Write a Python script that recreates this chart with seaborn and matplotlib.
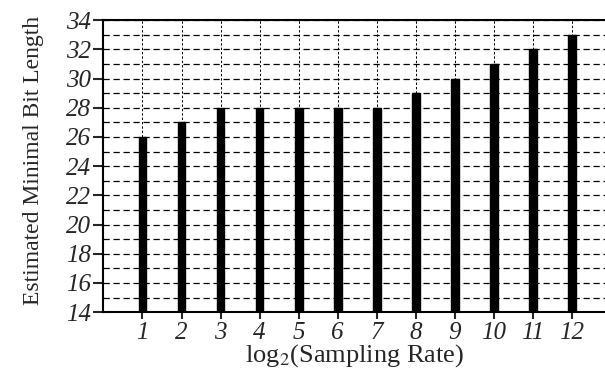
import pandas as pd
import seaborn as sns
import matplotlib.pyplot as plt
from matplotlib.ticker import MultipleLocator

log_rate = [1, 2, 3, 4, 5, 6, 7, 8, 9, 10, 11, 12]
bit_length = [26, 27, 28, 28, 28, 28, 28, 29, 30, 31, 32, 33]

df = pd.DataFrame({"rate": log_rate, "bits": bit_length})

sns.set_style("white")
plt.rcParams["font.family"] = ["Liberation Serif", "DejaVu Serif"]
plt.rcParams["mathtext.fontset"] = "stix"

fig = plt.figure(figsize=(6.05, 3.73), dpi=100)
ax = fig.add_axes([0.171, 0.163, 0.829, 0.783])

sns.barplot(ax=ax, data=df, x="rate", y="bits", native_scale=True,
            color="black", width=0.2, edgecolor="black", saturation=1)

ax.set_xlim(0, 12.85)
ax.set_ylim(14, 34)
ax.set_xticks(log_rate)
ax.set_xticklabels([str(v) for v in log_rate], fontstyle="italic", fontsize=18)
ax.yaxis.set_major_locator(MultipleLocator(2))
ax.yaxis.set_minor_locator(MultipleLocator(1))
for t in ax.get_yticklabels():
    t.set_fontstyle("italic")
    t.set_fontsize(18)

ax.grid(True, which="both", axis="y", linestyle=(0, (5, 3)), color="black", linewidth=0.9)
ax.grid(True, which="major", axis="x", linestyle=(0, (2.5, 2)), color="black", linewidth=0.7)
ax.set_axisbelow(True)

for side in ["left", "bottom", "top"]:
    ax.spines[side].set_visible(True)
    ax.spines[side].set_color("black")
    ax.spines[side].set_linewidth(1.5)
ax.spines["right"].set_visible(False)

ax.tick_params(axis="y", which="major", direction="out", length=7, width=1.5, left=True, pad=2)
ax.tick_params(axis="y", which="minor", left=False)
ax.tick_params(axis="x", direction="out", length=5, width=1.5, bottom=True, pad=2)

ax.set_ylabel("Estimated Minimal Bit Length", fontsize=17)
ax.yaxis.set_label_coords(-0.118, 0.52)
ax.set_xlabel("log$_2$(Sampling Rate)", fontsize=19, labelpad=-1)

fig.savefig("out.png", dpi=100)
plt.close(fig)
